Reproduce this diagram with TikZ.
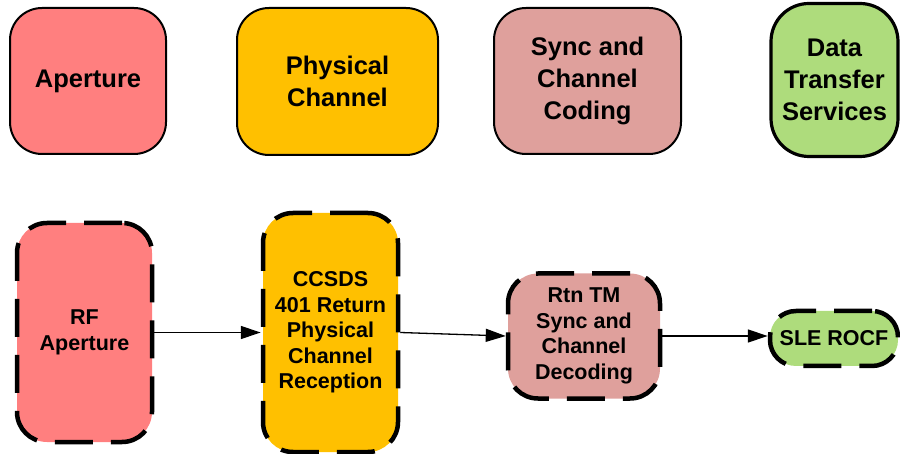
\documentclass[tikz,border=0pt]{standalone}
\usepackage{fontspec}
\setmainfont{Liberation Sans}
\usetikzlibrary{arrows.meta}
\definecolor{cred}{HTML}{FF7F7F}
\definecolor{corange}{HTML}{FFC000}
\definecolor{cpink}{HTML}{DFA09C}
\definecolor{cgreen}{HTML}{AEDC7C}
\tikzset{
  topbox/.style={draw=black, line width=2pt, rounded corners=32pt, inner sep=0pt, align=center,
    font=\bfseries\fontsize{25.5}{32}\selectfont},
  botbox/.style={draw=black, line width=4.5pt, dash pattern=on 38pt off 18pt, rounded corners=30pt,
    inner sep=0pt, align=center, font=\bfseries\fontsize{21.5}{25.5}\selectfont},
  flow/.style={line width=1.3pt, -{Triangle[length=20pt,width=13pt]}},
}
\begin{document}
\begin{tikzpicture}[x=1pt,y=-1pt]
\useasboundingbox (0,0) rectangle (900,454);
% top row
\node[topbox, fill=cred, minimum width=156pt, minimum height=146pt] (ap) at (88,81) {Aperture};
\node[topbox, fill=corange, minimum width=201pt, minimum height=147pt] (pc) at (337.5,81.5) {Physical\\Channel};
\node[topbox, fill=cpink, minimum width=187pt, minimum height=146pt] (sc) at (587.5,81) {Sync and\\Channel\\Coding};
\node[topbox, fill=cgreen, line width=3.2pt, rounded corners=38pt, minimum width=127pt, minimum height=153pt] (dt) at (834.5,80) {Data\\Transfer\\Services};
% bottom row
\node[botbox, fill=cred, minimum width=135pt, minimum height=219pt] (rf) at (84.5,332.5) {RF\\Aperture};
\node[botbox, fill=corange, minimum width=135pt, minimum height=239pt] (cc) at (330.5,332.5) {CCSDS\\401 Return\\Physical\\Channel\\Reception};
\node[botbox, fill=cpink, minimum width=152pt, minimum height=125pt] (rt) at (584,336) {Rtn TM\\Sync and\\Channel\\Decoding};
\node[botbox, fill=cgreen, rounded corners=26pt, minimum width=128pt, minimum height=55pt] (sle) at (834,338.5) {SLE ROCF};
% connectors
\draw[flow] (rf.east) -- (cc.west);
\draw[flow] (cc.east) -- (rt.west);
\draw[flow] (rt.east) -- (rt.east -| sle.west);
\end{tikzpicture}
\end{document}
